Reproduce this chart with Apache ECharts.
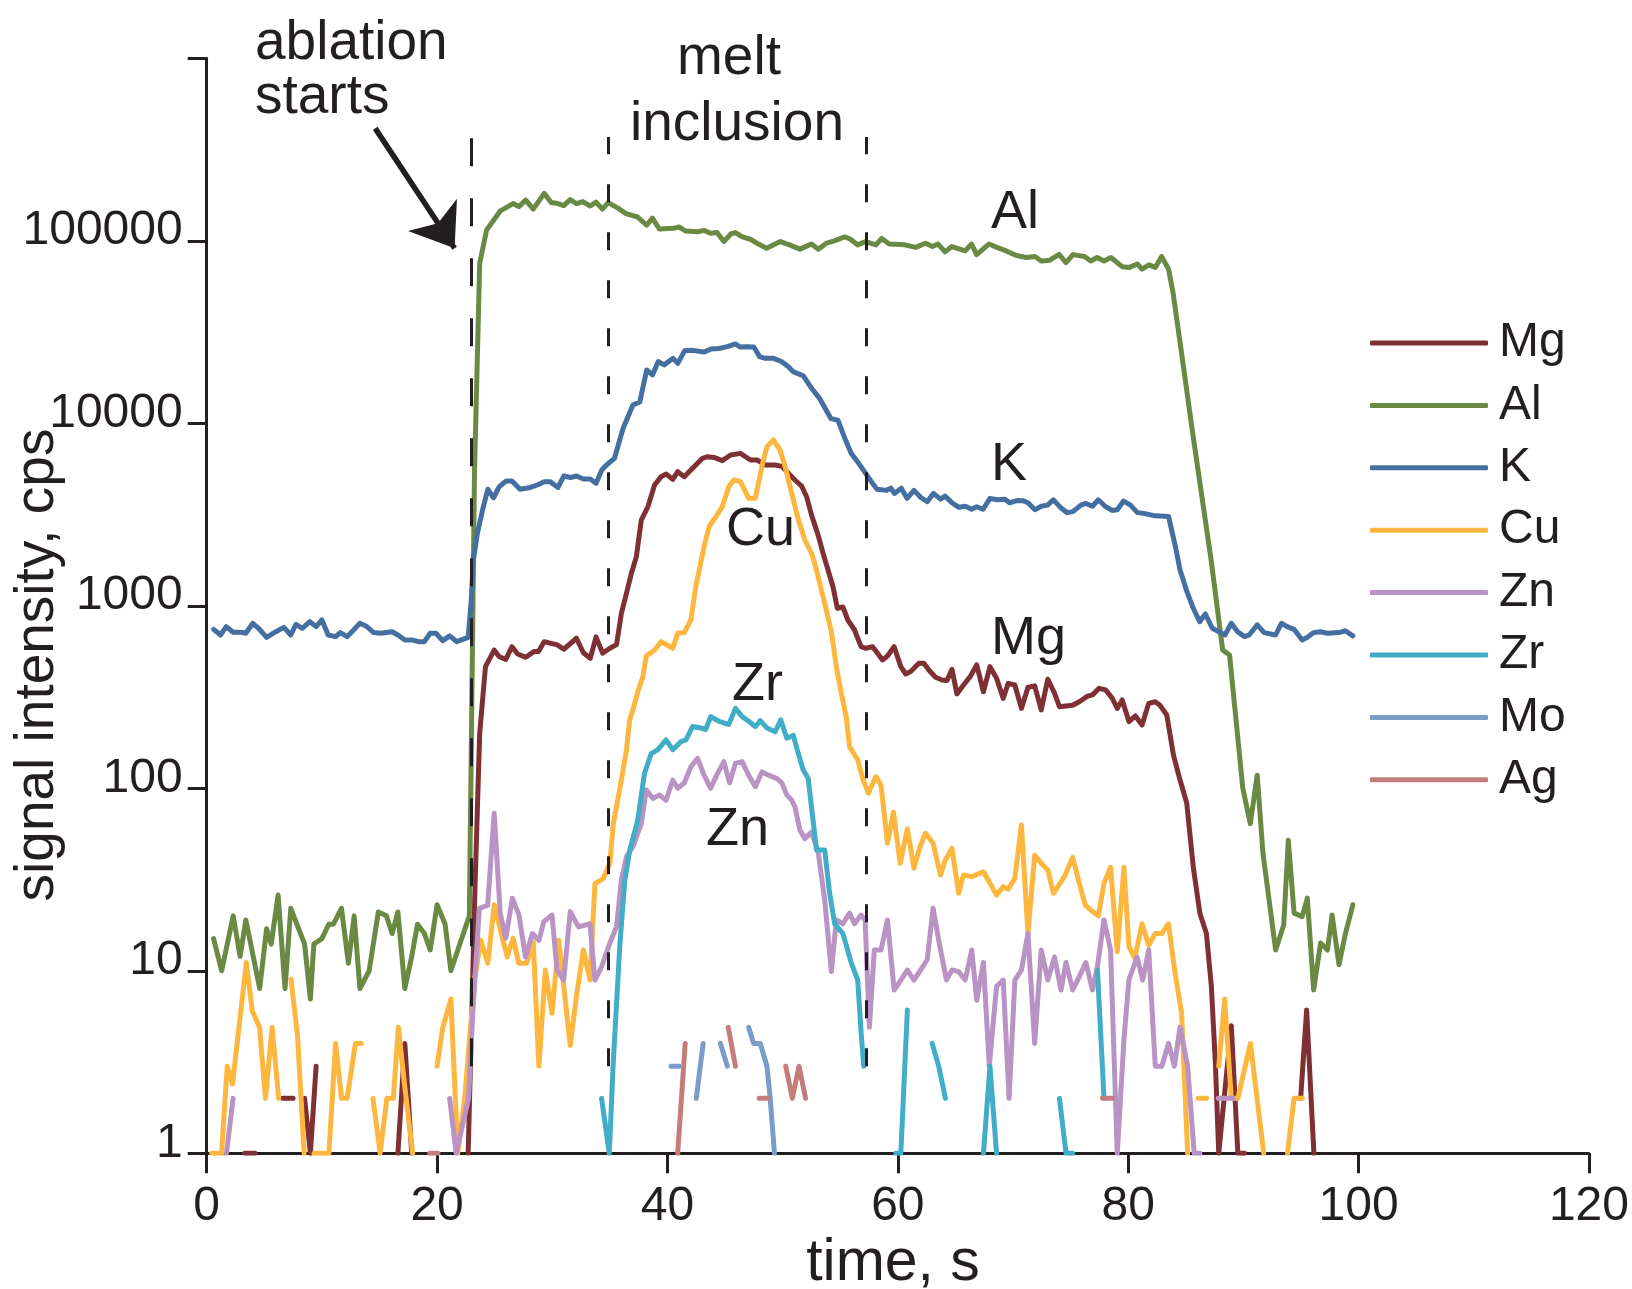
<!DOCTYPE html>
<html>
<head>
<meta charset="utf-8">
<script src="https://cdn.jsdelivr.net/npm/echarts@6/dist/echarts.min.js"></script>
<style>
  html, body { margin: 0; padding: 0; background: #fff; }
  #chart { width: 1632px; height: 1289px; }
</style>
</head>
<body>
<div id="chart"></div>
<script>
const FONT = '"Liberation Sans", Arial, Helvetica, sans-serif';
const INK = '#231f20';

// element names and line colours (legend order)
const elements = ['Mg', 'Al', 'K', 'Cu', 'Zn', 'Zr', 'Mo', 'Ag'];
const colors = ['#7f3035', '#6a8a44', '#446fa0', '#fdb73e', '#b893c4', '#42adc6', '#7b9bc8', '#c77c7c'];

// [time s, counts per s]; null = gap (zero counts, not drawn on log axis)
const mgData = [[3.3,1],[4.2,1],null,[6.6,2],[7.5,2],null,[8.5,2],[9.0,1],[9.5,3],null,[16.6,1],[17.2,4],[17.8,1],null,
  [22.7,1],[23.3,30],[23.7,200],[24.2,464],[24.96,572],[25.4,526],[25.96,509],[26.5,597],[27.0,544],[27.7,522],[28.4,561],[28.8,561],
  [29.3,636],[29.8,624],[30.4,613],[31.0,578],[32.1,664],[32.7,553],[33.3,515],[33.8,676],[34.37,550],[35.0,585],[35.58,613],
  [36.0,910],[36.44,1170],[36.87,1507],[37.3,1858],[37.73,2950],[38.3,3490],[38.88,4590],[39.45,5100],[39.88,5270],[40.46,4930],
  [40.89,5430],[41.46,5100],[42.18,5670],[43.04,6430],[43.47,6560],[44.04,6500],[44.76,6240],[45.48,6700],[46.34,6840],[46.77,6560],
  [47.2,6300],[47.77,6300],[48.49,5910],[49.35,5910],[49.93,5810],[50.5,5320],[51.07,4890],[51.65,4530],[52.08,3960],[52.51,3140],
  [53.08,2440],[53.51,1940],[53.94,1570],[54.37,1273],[54.75,969],[55.23,985],[55.66,836],[56.24,737],[56.81,597],[57.24,585],
  [57.81,597],[58.24,550],[58.67,505],[59.1,531],[59.68,597],[60.26,464],[60.69,423],[61.12,436],[61.83,484],[62.26,484],[62.69,445],
  [63.27,406],[63.84,392],[64.27,390],[64.7,449],[65.13,329],[65.7,368],[66.28,409],[66.85,474],[67.43,338],[68.0,464],[68.57,401],
  [69.15,311],[69.58,376],[70.16,368],[70.73,274],[71.3,358],[71.88,364],[72.45,269],[73.02,396],[73.6,332],[74.03,280],[75.18,285],
  [75.75,298],[76.47,320],[76.9,325],[77.47,353],[78.04,346],[78.62,311],[79.05,274],[79.48,305],[80.06,232],[80.62,249],[81.2,222],
  [81.78,292],[82.35,298],[82.78,284],[83.35,252],[83.93,152],[84.5,111],[85.08,83],[85.65,37],[86.22,20.7],[86.79,16],[87.22,8.2],
  [87.57,3.1],[87.86,1],[88.95,5],[89.52,1],[90.1,1],null,[94.97,2],[95.49,6.1],[96.12,1]];

const alData = [[0.6,15],[1.3,10],[2.3,20],[2.9,12],[3.4,19],[4.6,8],[5.2,17],[5.6,14],[6.2,26],[6.8,8],[7.3,22],[8.5,14],[9.0,7],
  [9.3,14],[10.0,15],[10.6,18],[11.0,18],[11.7,22],[12.3,11],[12.8,20],[13.3,8],[14.1,10],[14.9,21],[15.6,20],[16.1,16],[16.6,21],
  [17.2,8],[17.8,12],[18.3,18],[18.9,16],[19.4,13],[20.0,23],[20.7,18],[21.2,10],[21.8,13],[22.8,20],[23.25,5500],[23.7,75300],
  [24.3,114600],[25.5,146000],[26.6,160000],[27.1,154000],[27.7,167000],[28.35,149000],[29.3,182000],[29.9,162000],[30.5,160000],
  [31.0,156000],[31.56,168000],[32.1,160000],[32.65,164000],[33.3,155000],[33.8,163000],[34.35,149000],[34.86,162000],[35.7,151000],
  [36.4,141000],[37.4,135000],[38.2,122000],[38.7,133000],[39.3,116000],[40.5,117000],[41.0,119000],[41.6,113000],[42.6,112000],
  [43.2,114000],[43.75,110000],[44.3,111000],[44.9,99000],[45.5,109000],[45.9,111000],[46.5,105000],[47.2,102000],[47.9,96000],
  [48.6,91000],[49.8,99000],[50.6,95000],[51.5,90000],[52.5,96000],[53.1,90000],[53.8,97000],[54.4,99500],[55.4,105000],[55.9,102000],
  [56.5,95000],[57.2,99000],[58.1,95000],[58.6,103000],[59.25,96000],[60.6,95000],[61.55,92000],[62.4,97000],[63.0,93000],[63.5,96000],
  [64.1,87000],[64.7,93000],[65.85,88000],[66.4,96000],[66.85,84000],[67.9,96000],[68.6,92000],[69.4,88000],[70.3,83000],[71.15,81000],
  [71.9,82000],[72.45,77500],[73.2,78300],[74.0,84300],[74.6,76000],[75.2,84000],[76.2,82000],[76.75,77500],[77.3,81000],[77.9,77500],
  [78.5,81000],[79.5,72000],[80.1,71500],[80.8,74600],[81.2,70000],[81.8,73800],[82.35,71500],[82.9,82000],[83.5,70000],[83.9,51600],
  [84.8,20400],[85.6,8800],[87.2,1780],[88.2,573],[88.8,537],[89.95,100],[90.6,64],[91.2,118],[91.7,44],[92.8,13],[93.5,17.8],
  [93.9,52],[94.4,20.7],[95.1,19.8],[95.55,25],[96.1,7.85],[96.7,14.2],[97.3,13],[97.7,20.2],[98.3,10.8],[98.85,15.9],[99.5,23]];

const kData = [[0.6,743],[1.2,692],[1.7,769],[2.3,716],[3.0,716],[3.4,707],[4.0,802],[4.5,753],[5.2,672],[6.0,721],[6.7,762],[7.3,692],
  [7.75,792],[8.3,753],[8.95,819],[9.5,769],[10.0,836],[10.55,692],[11.2,678],[11.6,713],[12.2,678],[13.3,802],[13.9,769],[14.5,713],
  [15.1,707],[16.1,721],[16.6,692],[17.2,650],[17.8,650],[18.4,636],[18.9,636],[19.4,707],[19.9,707],[20.5,644],[21.1,684],[21.7,636],
  [22.7,672],[22.95,1032],[23.15,1783],[23.5,2500],[23.95,3350],[24.4,4350],[24.9,3910],[25.4,4500],[26.0,4830],[26.5,4830],[27.2,4350],
  [28.1,4450],[28.7,4590],[29.3,4790],[29.8,4790],[30.5,4450],[31.0,5140],[31.6,5050],[32.1,5140],[32.7,4950],[33.3,4950],[33.8,4690],
  [34.3,5550],[34.7,5910],[35.4,6430],[36.15,9390],[36.7,11350],[37.0,12600],[37.6,13100],[38.2,19600],[38.7,18400],[39.2,21800],
  [39.7,20900],[40.5,22700],[40.9,21300],[41.5,25000],[42.2,25100],[42.75,24800],[43.2,24600],[43.75,25500],[44.5,25700],[45.2,26300],
  [45.9,27200],[46.3,26200],[46.9,26300],[47.5,26200],[48.0,23200],[48.5,22700],[49.2,22700],[49.9,21800],[50.5,20400],[50.9,19200],
  [51.8,18200],[52.5,15600],[53.2,13700],[54.2,10600],[54.8,10400],[55.4,8270],[55.95,6850],[56.5,6160],[57.1,5430],[57.7,4790],
  [58.2,4350],[59.0,4290],[59.4,4410],[59.7,4130],[60.3,4410],[60.8,3880],[61.4,4290],[62.0,3920],[62.55,3720],[63.1,4130],[63.7,3840],
  [64.1,3990],[64.7,3670],[65.3,3465],[65.85,3510],[66.4,3380],[66.85,3490],[67.4,3380],[68.0,3880],[68.6,3810],[69.3,3840],[69.7,3670],
  [70.4,3780],[70.9,3760],[71.3,3670],[71.9,3360],[72.45,3510],[73.0,3560],[73.5,3810],[74.2,3420],[74.7,3240],[75.2,3280],[75.9,3560],
  [76.3,3640],[76.9,3510],[77.4,3810],[78.0,3510],[78.6,3330],[79.05,3360],[79.6,3750],[80.2,3560],[80.8,3240],[81.35,3210],[82.35,3110],
  [83.5,3090],[84.1,2110],[84.5,1570],[85.1,1195],[85.65,969],[86.2,819],[86.7,902],[87.3,753],[88.4,692],[88.95,802],[89.5,721],
  [90.1,678],[90.5,692],[91.2,786],[91.8,713],[92.8,692],[93.3,802],[93.8,769],[94.4,743],[95.1,650],[95.55,672],[96.1,713],[96.7,721],
  [97.3,707],[98.3,713],[98.85,730],[99.5,684]];

const cuData = [[0.43,1],[1.29,1],[1.78,3],[2.24,2.4],[3.44,11.1],[3.96,6],[4.59,4.9],[5.1,2],[5.68,4.9],[6.25,2],null,[7.32,9],
  [7.89,4.35],[8.46,1],null,[9.32,1],[10.61,1],[11.19,4],[11.7,2],[12.19,2],[12.91,4],[13.43,4],null,[14.43,2],[15.06,1],[15.64,2],
  [16.2,2],[16.64,4.9],[17.2,2.3],[17.88,1],null,[20.0,3],[20.5,4.9],[21.2,7],[21.8,1],[22.4,2],[23.24,8.9],[23.8,14.7],[24.4,11],
  [24.96,23],[25.5,16.7],[26.1,11.9],[26.6,15.1],[27.1,11],[27.77,11],[28.35,14.4],[28.84,3],[29.4,10.1],[29.98,5.85],[30.56,14.7],
  [31.56,3.9],[32.13,7.5],[32.7,13],[33.28,8.9],[33.7,30],[34.43,32],[35.0,38.8],[35.3,64],[36.0,111],[36.44,162],[36.72,237],[37.0,269],
  [37.44,340],[37.87,409],[38.16,530],[38.88,572],[39.45,636],[40.46,585],[40.89,707],[41.46,713],[42.03,836],[42.46,1273],[43.18,2110],
  [43.61,2710],[44.04,2970],[44.76,3490],[45.33,4500],[45.76,4890],[46.34,4790],[47.05,3880],[47.63,3880],[48.2,5810],[48.64,7450],
  [49.2,8100],[49.78,7140],[50.21,5810],[50.79,4130],[51.36,2970],[51.93,2290],[52.51,1940],[52.94,1570],[53.65,1032],[54.23,721],
  [54.66,464],[55.09,332],[55.52,247],[55.81,169],[56.52,143],[56.95,113],[57.44,94],[58.1,116],[58.54,104],[59.1,50],[59.62,74],
  [60.2,38.8],[60.83,60],[61.4,36.5],[61.92,47.9],[62.41,56.7],[63.06,50],[63.7,33.5],[64.13,40.5],[64.7,46.9],[65.28,26.6],[65.7,33.5],
  [66.42,32.8],[67.43,34.9],[68.0,30.2],[68.57,26],[69.15,28.9],[69.58,28],[70.16,32.1],[70.73,63],[71.3,16],[71.88,43],[72.45,38.8],
  [73.02,35.7],[73.51,26.6],[74.46,32.8],[75.18,41.9],[75.75,30.2],[76.27,22.9],[76.75,21.5],[77.41,20],[77.9,30.2],[78.47,36.9],
  [79.05,12.7],[79.63,36.9],[80.06,13.6],[80.57,11.7],[81.2,18.1],[81.78,13.8],[82.35,16],[82.92,16],[83.5,18.1],[84.07,9.7],
  [84.64,5.85],[85.16,1],null,[86.08,2],[86.8,2],null,[87.86,3],[88.37,7],[88.95,2],[89.52,2],[90.61,4],[91.76,1],null,[93.83,1],
  [94.4,2],[95.12,2]];

const znData = [[1.72,1],[2.29,2],null,[21.09,2],[21.66,1],[22.73,2],[23.1,5.85],[23.67,22],[24.39,22.8],[24.96,73],[25.48,20.7],
  [25.96,15.1],[26.54,25],[27.11,20.2],[27.68,11.9],[28.27,16],[28.84,14.7],[29.27,18.6],[29.98,20.2],[30.41,10.1],[30.99,8.9],
  [31.56,21.1],[32.28,17.4],[33.28,18.1],[33.7,8.9],[34.28,10.5],[35.0,14.2],[35.58,17.4],[36.0,31.4],[36.44,42.2],[37.0,47.9],
  [37.73,64],[38.16,98],[38.74,88],[39.3,92],[39.88,86],[40.46,111],[40.89,100],[41.46,107],[42.03,131],[42.61,146],[43.18,118],
  [43.75,100],[44.33,120],[44.9,140],[45.39,107],[45.9,137],[46.48,140],[47.05,118],[47.63,102],[48.2,123],[48.77,118],[49.5,113],
  [49.93,107],[50.36,92],[50.79,86],[51.07,79],[51.5,59],[51.93,53],[52.51,57.5],[53.08,45],[53.65,24.4],[54.23,9.9],[54.66,19],
  [55.23,18.1],[55.81,20.7],[56.24,18.1],[56.81,20.2],[57.16,19],[57.53,4.9],[57.96,13],[58.54,13],[59.1,19],[59.68,7.85],[60.26,8.9],
  [60.83,10.1],[61.4,8.9],[61.98,10.1],[62.55,11.5],[63.06,22],[63.55,14.7],[64.22,8.9],[64.7,10.1],[65.28,9.9],[65.85,8.9],[66.42,13],
  [66.85,6.9],[67.43,11.1],[67.94,3],[68.57,8.2],[69.15,8.9],[69.66,2],[70.16,8.9],[70.73,10.1],[71.3,16],[71.88,4],[72.45,13],
  [73.02,8.9],[73.6,11.9],[74.17,7.85],[74.6,11.1],[75.18,7.85],[75.75,9.3],[76.32,11.1],[76.9,7.85],[77.33,10.6],[77.9,19],[78.47,13],
  [79.05,1],[79.63,4.2],[80.06,8.9],[80.77,11.9],[81.26,8.9],[81.78,13],[82.35,3],[82.92,3],[83.5,4],[84.01,3],[84.5,4.9],[85.16,3],
  [85.73,1],[86.22,1],null,[87.82,2],[89.1,2]];

const zrData = [[34.28,2],[34.95,1],[35.29,3.1],[35.86,13.6],[36.3,31.4],[36.73,45.9],[37.4,66],[38.01,121],[38.59,155],[39.17,163],
  [39.88,184],[40.46,163],[41.17,180],[41.6,184],[42.18,218],[42.9,214],[43.32,210],[43.75,247],[44.47,233],[44.9,228],[45.33,224],
  [45.9,274],[46.48,247],[47.05,233],[47.63,218],[48.06,235],[48.64,214],[49.35,204],[49.84,237],[50.36,188],[50.93,195],[51.36,155],
  [51.79,126],[52.22,113],[52.94,45.9],[53.65,45.9],[54.08,26.6],[54.52,18.1],[55.23,16],[55.95,11.1],[56.52,8.9],[56.81,4.6],[57.04,3],
  null,[59.83,1],[60.26,1],[60.83,6.1],null,[62.98,4],[63.55,3],[64.13,2],null,[67.43,1],[68.0,3],[68.57,1],null,[74.03,2],[74.6,1],
  [75.18,1],null,[77.33,10.1],[77.9,2]];

const moData = [[40.31,3],[41.03,3],null,[42.5,2],[43.1,4],null,[44.6,4],[45.2,3],null,[47.05,4.9],[47.48,4],[48.06,4],[48.64,3],
  [48.92,2],[49.29,1]];

const agData = [[19.37,1],[20.08,1],null,[40.89,1],[41.54,4],null,[45.28,4.9],[45.9,3],null,[47.97,2],[48.72,2],null,[50.27,3],
  [50.84,2],[51.42,3],[51.99,2],null,[77.76,2],[78.62,2]];

const seriesData = [mgData, alData, kData, cuData, znData, zrData, moData, agData];

// ablation start, melt inclusion start and end (s)
const phaseTimes = [23.0, 34.82, 57.25];

const chart = echarts.init(document.getElementById('chart'), null, { renderer: 'canvas' });

const toPoints = (arr) => arr.map(p => (p === null ? ['-', '-'] : p));

const lines = elements.map((name, i) => ({
  name: name,
  type: 'line',
  data: toPoints(seriesData[i]),
  symbol: 'none',
  showSymbol: false,
  connectNulls: false,
  animation: false,
  itemStyle: { color: colors[i] },
  lineStyle: { width: 5, color: colors[i], cap: 'round', join: 'round' },
  z: 2 + i * 0.01
}));

// dashed phase boundaries + arrow, drawn on top
lines.push({
  name: 'marks',
  type: 'line',
  data: [],
  animation: false,
  z: 5,
  markLine: {
    silent: true,
    animation: false,
    symbol: 'none',
    label: { show: false },
    data: [
      [{ coord: [phaseTimes[0], 3], lineStyle: { color: INK, width: 3, type: [28, 32] } }, { coord: [phaseTimes[0], 370000] }],
      [{ coord: [phaseTimes[1], 3], lineStyle: { color: INK, width: 3, type: [18, 30] } }, { coord: [phaseTimes[1], 370000] }],
      [{ coord: [phaseTimes[2], 3], lineStyle: { color: INK, width: 3, type: [18, 30] } }, { coord: [phaseTimes[2], 370000] }],
      [{ coord: [14.63, 413000], symbol: 'none', lineStyle: { color: INK, width: 5.5, type: 'solid' } },
       { coord: [21.52, 91000], symbol: 'arrow', symbolSize: [44, 40] }]
    ]
  }
});

const textEl = (text, x, y, size, align) => ({
  type: 'text',
  x: x,
  y: y,
  silent: true,
  style: { text: text, fill: INK, fontSize: size, fontFamily: FONT, align: align || 'left', verticalAlign: 'middle' }
});

const option = {
  backgroundColor: '#fff',
  animation: false,
  grid: { left: 206.7, right: 35.3, top: 58.3, bottom: 135.7 },
  legend: {
    data: elements,
    orient: 'vertical',
    left: 1365,
    top: 313,
    icon: 'roundRect',
    itemWidth: 118,
    itemHeight: 5,
    itemGap: 12.4,
    selectedMode: false,
    textStyle: { fontSize: 48, fontFamily: FONT, color: INK, lineHeight: 50, padding: [0, 0, 0, 6] }
  },
  xAxis: {
    type: 'value',
    min: 0,
    max: 120,
    interval: 20,
    axisLine: { show: true, onZero: false, lineStyle: { color: INK, width: 3 } },
    axisTick: { show: true, length: 20, lineStyle: { color: INK, width: 3 } },
    axisLabel: { fontSize: 48, color: INK, fontFamily: FONT, margin: 29 },
    splitLine: { show: false }
  },
  yAxis: {
    type: 'log',
    logBase: 10,
    min: 1,
    max: 1000000,
    axisLine: { show: true, lineStyle: { color: INK, width: 3 } },
    axisTick: { show: true, length: 19, lineStyle: { color: INK, width: 3 } },
    axisLabel: {
      fontSize: 48, color: INK, fontFamily: FONT, margin: 24, verticalAlign: 'bottom', lineHeight: 20,
      formatter: (v) => (Math.round(v) >= 1000000 ? '' : String(Math.round(v)))
    },
    splitLine: { show: false },
    minorTick: { show: false }
  },
  graphic: [
    textEl('ablation', 255, 44, 55),
    textEl('starts', 255, 98, 55),
    textEl('melt', 729, 59, 55, 'center'),
    textEl('inclusion', 737, 125, 55, 'center'),
    textEl('Al', 991, 213, 54),
    textEl('K', 991, 465, 54),
    textEl('Mg', 991, 639, 54),
    textEl('Cu', 726, 530, 54),
    textEl('Zr', 732, 685, 54),
    textEl('Zn', 706, 830, 54),
    textEl('time, s', 893, 1264, 59, 'center'),
    {
      type: 'text', x: 38, y: 665, rotation: Math.PI / 2, silent: true,
      style: { text: 'signal intensity, cps', fill: INK, fontSize: 55, fontFamily: FONT, align: 'center', verticalAlign: 'middle' }
    }
  ],
  series: lines
};

chart.setOption(option);
</script>
</body>
</html>
